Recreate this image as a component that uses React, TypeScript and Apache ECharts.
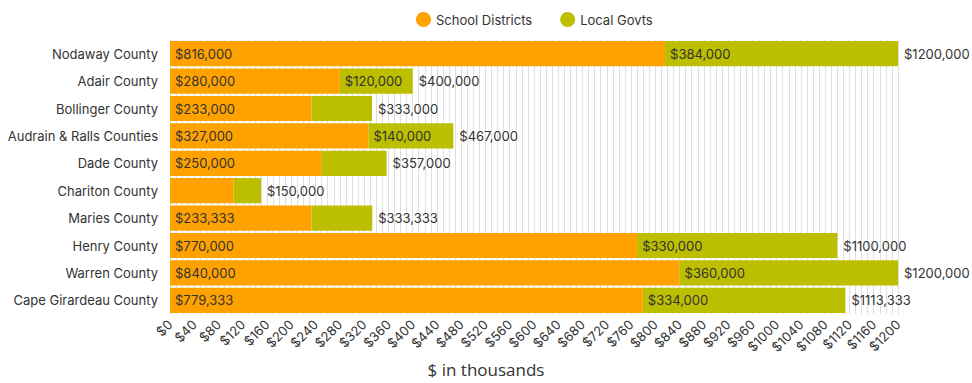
import React, { useEffect, useRef } from "react";
import * as echarts from "echarts";

const categories = [
  "Nodaway County",
  "Adair County",
  "Bollinger County",
  "Audrain & Ralls Counties",
  "Dade County",
  "Chariton County",
  "Maries County",
  "Henry County",
  "Warren County",
  "Cape Girardeau County",
];
const schoolDistricts = [816, 280, 233, 327, 250, 105, 233.333, 770, 840, 779.333];
const localGovts = [384, 120, 100, 140, 107, 45, 100, 330, 360, 334];
const totals = [1200, 400, 333, 467, 357, 150, 333.333, 1100, 1200, 1113.333];

const fmt = (v: number) => {
  const n = Math.round(v * 1000);
  const s = String(n);
  return "$" + s.slice(0, s.length - 3) + "," + s.slice(s.length - 3);
};

const FONT = "Inter, 'Noto Sans', sans-serif";
const TXT = "#333333";

export default function App() {
  const ref = useRef<HTMLDivElement>(null);
  useEffect(() => {
    document.body.style.margin = "0";
    document.body.style.overflow = "hidden";
    if (!ref.current) return;
    const chart = echarts.init(ref.current, undefined, { renderer: "svg" });
    const inside = {
      show: true,
      position: "insideLeft" as const,
      distance: 5,
      color: TXT,
      fontSize: 13,
      fontFamily: FONT,
      formatter: (p: any) => (p.value >= 110 ? fmt(p.value) : ""),
    };
    chart.setOption({
      animation: false,
      textStyle: { fontFamily: FONT },
      legend: {
        data: ["School Districts", "Local Govts"],
        top: 7,
        left: 411,
        icon: "circle",
        itemWidth: 15,
        itemHeight: 15,
        itemGap: 28,
        textStyle: { fontSize: 13, color: TXT, fontFamily: FONT },
      },
      graphic: [
        {
          type: "text",
          left: "center",
          top: 361,
          style: { text: "$ in thousands", fontSize: 17, fill: TXT, fontFamily: "'Open Sans', sans-serif" },
        },
      ],
      grid: { left: 170, right: 74, top: 40, bottom: 69, containLabel: false },
      xAxis: {
        type: "value",
        min: 0,
        max: 1200,
        interval: 40,
        axisLine: { show: false },
        axisTick: { show: false },
        splitLine: { show: true, lineStyle: { color: "#dedede", width: 1 } },
        minorTick: { show: false, splitNumber: 4 },
        minorSplitLine: { show: true, lineStyle: { color: "#dedede", width: 1 } },
        axisLabel: {
          rotate: 45,
          color: TXT,
          fontSize: 13,
          fontFamily: FONT,
          margin: 8,
          formatter: (v: number) => "$" + v,
        },
      },
      yAxis: {
        type: "category",
        data: categories,
        inverse: true,
        axisLine: { show: false },
        axisTick: { show: false },
        axisLabel: { color: TXT, fontSize: 13, fontFamily: FONT, margin: 12 },
      },
      series: [
        {
          name: "School Districts",
          type: "bar",
          stack: "total",
          data: schoolDistricts,
          barCategoryGap: "8%",
          itemStyle: { color: "#ffa200" },
          label: inside,
        },
        {
          name: "Local Govts",
          type: "bar",
          stack: "total",
          data: localGovts,
          itemStyle: { color: "#bcbe00" },
          label: inside,
        },
        {
          name: "Total",
          type: "bar",
          stack: "total",
          data: totals.map(() => 0),
          itemStyle: { color: "transparent" },
          label: {
            show: true,
            position: "right",
            distance: 6,
            color: TXT,
            fontSize: 13,
            fontFamily: FONT,
            formatter: (p: any) => fmt(totals[p.dataIndex]),
          },
        },
      ],
    });
    return () => chart.dispose();
  }, []);
  return <div ref={ref} style={{ width: 972, height: 383 }} />;
}
